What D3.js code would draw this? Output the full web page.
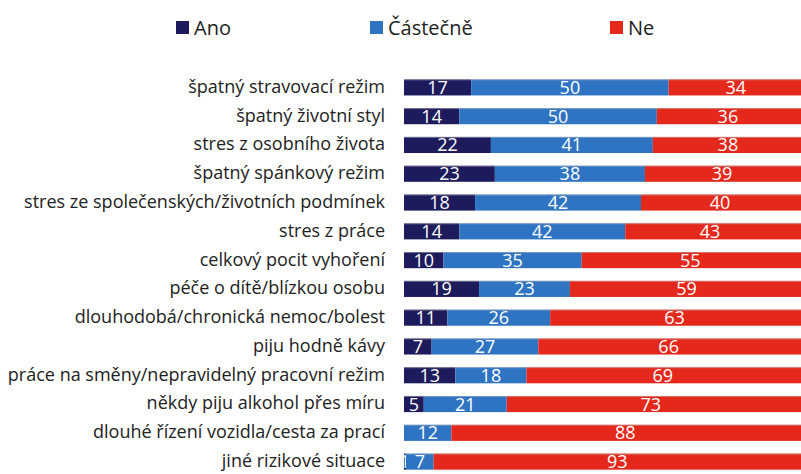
<!DOCTYPE html>
<html><head><meta charset="utf-8">
<script src="https://cdn.jsdelivr.net/npm/d3@7"></script>
<style>body{margin:0;background:#fff}svg{display:block}</style>
</head><body>
<svg id="c" width="801" height="474"></svg>
<script>
const categories = [
  "špatný stravovací režim",
  "špatný životní styl",
  "stres z osobního života",
  "špatný spánkový režim",
  "stres ze společenských/životních podmínek",
  "stres z práce ",
  "celkový pocit vyhoření",
  "péče o dítě/blízkou osobu",
  "dlouhodobá/chronická nemoc/bolest",
  "piju hodně kávy",
  "práce na směny/nepravidelný pracovní režim",
  "někdy piju alkohol přes míru",
  "dlouhé řízení vozidla/cesta za prací",
  "jiné rizikové situace"
];
const ano =      [17,14,22,23,18,14,10,19,11, 7,13, 5, 0, 0.5];
const castecne = [50,50,41,38,42,42,35,23,26,27,18,21,12, 7];
const ne =       [34,36,38,39,40,43,55,59,63,66,69,73,88,93];
const seriesNames = ["Ano","Částečně","Ne"];
const colors = ["#1e1b5c","#2e74c3","#e5281c"];

const W = 801;
const svg = d3.select("#c");
const font = "'Open Sans', 'Noto Sans', sans-serif";

const x = d3.scaleLinear().domain([0,100]).range([404,799]);
const y = d3.scaleBand().domain(categories).range([73,476]).paddingInner(0.44).paddingOuter(0.22);

const seriesVals = [ano, castecne, ne];
categories.forEach((c,i)=>{
  let acc = 0;
  seriesVals.forEach((arr,s)=>{
    const v = arr[i];
    if(v<=0){return;}
    const x0 = x(acc);
    let x1 = x(acc+v);
    if(s===seriesVals.length-1) x1 = Math.max(x1, W);
    svg.append("rect").attr("x",x0).attr("y",y(c)).attr("width",x1-x0).attr("height",y.bandwidth())
      .attr("fill",colors[s]);
    const xm = (x0 + Math.min(x1, x(acc+v)))/2;
    svg.append("text").attr("x",xm).attr("y",y(c)+y.bandwidth()/2+6.5)
      .attr("text-anchor","middle").attr("fill","#fff")
      .style("font-family",font).style("font-size","18px").text(Math.round(v));
    acc += v;
  });
  svg.append("line").attr("x1",x(0)).attr("x2",W).attr("y1",y(c)+0.5).attr("y2",y(c)+0.5)
    .attr("stroke","#bbb").attr("stroke-opacity",0.5);
});

const yAxis = d3.axisLeft(y).tickSize(0).tickPadding(0);
const g = svg.append("g").attr("transform","translate(385,0)").call(yAxis);
g.select(".domain").remove();
g.selectAll("text").style("font-family",font).style("font-size","18px").attr("fill","#222").attr("dy","0.3em");

const legX = [176,370,610];
seriesNames.forEach((n,i)=>{
  svg.append("rect").attr("x",legX[i]).attr("y",21).attr("width",13).attr("height",13).attr("fill",colors[i]);
  svg.append("text").attr("x",legX[i]+18).attr("y",34.5).attr("fill","#222")
    .style("font-family",font).style("font-size","20px").text(n);
});
</script>
</body></html>
